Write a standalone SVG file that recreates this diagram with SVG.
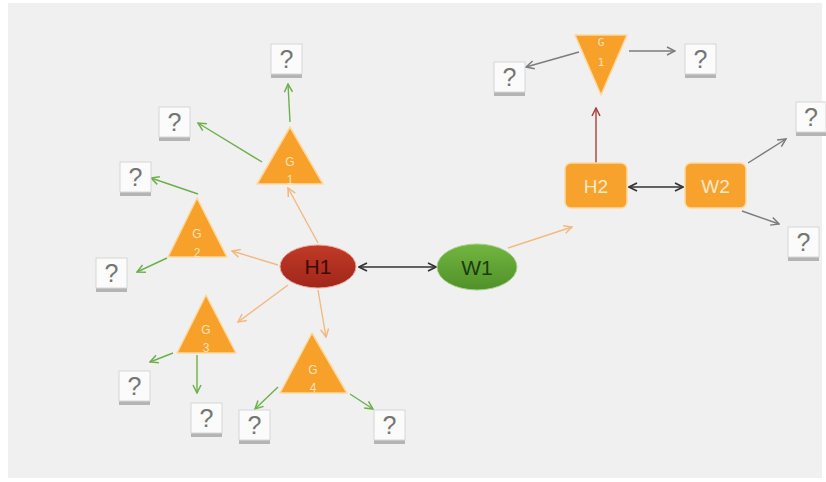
<svg xmlns="http://www.w3.org/2000/svg" width="826" height="482" viewBox="0 0 826 482">
<defs>
<style>
.tri{fill:#f7a02a;stroke:#fcd9a0;stroke-width:1.5;stroke-linejoin:round}
.tt{font-family:"Liberation Sans",Arial,sans-serif;font-size:12px;fill:#fde3b8;text-anchor:middle}
.tm{font-family:"DejaVu Sans Mono","Liberation Mono",monospace;font-size:11px;fill:#fde3b8;text-anchor:middle}
.qs{fill:#b4b4b4}
.qb{fill:#fbfbfb;stroke:#d6d6d6;stroke-width:1}
.qt{font-family:"Liberation Sans",Arial,sans-serif;font-size:25px;fill:#757575;text-anchor:middle}
.big{font-family:"Liberation Sans",Arial,sans-serif;font-size:21px;text-anchor:middle}
.big2{font-family:"Liberation Sans",Arial,sans-serif;font-size:19px;text-anchor:middle}
.rect{fill:#f7a22c;stroke:#fcd9a0;stroke-width:1.5}
.c{fill:none;stroke-width:1.4}
.g{stroke:#6cb04a;marker-end:url(#mg)}
.o{stroke:#f3b97f;marker-end:url(#mo)}
.y{stroke:#7c7c7c;marker-end:url(#my)}
.d{stroke:#333;stroke-width:1.6;marker-start:url(#md);marker-end:url(#md)}
.r{stroke:#a4403a;marker-end:url(#mr)}
</style>
<marker id="mg" viewBox="0 0 10 10" refX="9" refY="5" markerWidth="10" markerHeight="10" markerUnits="userSpaceOnUse" orient="auto-start-reverse"><path d="M1,1 L9,5 L1,9" fill="none" stroke="#6cb04a" stroke-width="1.5"/></marker>
<marker id="mo" viewBox="0 0 10 10" refX="9" refY="5" markerWidth="10" markerHeight="10" markerUnits="userSpaceOnUse" orient="auto-start-reverse"><path d="M1,1 L9,5 L1,9" fill="none" stroke="#f3b97f" stroke-width="1.5"/></marker>
<marker id="my" viewBox="0 0 10 10" refX="9" refY="5" markerWidth="10" markerHeight="10" markerUnits="userSpaceOnUse" orient="auto-start-reverse"><path d="M1,1 L9,5 L1,9" fill="none" stroke="#7c7c7c" stroke-width="1.5"/></marker>
<marker id="md" viewBox="0 0 10 10" refX="9" refY="5" markerWidth="10" markerHeight="10" markerUnits="userSpaceOnUse" orient="auto-start-reverse"><path d="M1,1 L9,5 L1,9" fill="none" stroke="#333" stroke-width="1.7"/></marker>
<marker id="mr" viewBox="0 0 10 10" refX="9" refY="5" markerWidth="10" markerHeight="10" markerUnits="userSpaceOnUse" orient="auto-start-reverse"><path d="M1,1 L9,5 L1,9" fill="none" stroke="#a4403a" stroke-width="1.5"/></marker>
<linearGradient id="gr" x1="0" y1="0" x2="0" y2="1"><stop offset="0" stop-color="#c13a26"/><stop offset="1" stop-color="#a0261a"/></linearGradient>
<linearGradient id="gg" x1="0" y1="0" x2="0" y2="1"><stop offset="0" stop-color="#72b640"/><stop offset="1" stop-color="#4f9128"/></linearGradient>
</defs>
<rect width="826" height="482" fill="#ffffff"/>
<rect x="8" y="3" width="814" height="475" fill="#f0f0f0"/>

<g id="connectors">
<path class="c g" d="M290,122 L288,84"/>
<path class="c g" d="M262,162 L198,123"/>
<path class="c g" d="M198,194 L151,178"/>
<path class="c g" d="M167,258 L137,272"/>
<path class="c g" d="M173,353 L150,362"/>
<path class="c g" d="M197,355 L197,393"/>
<path class="c g" d="M278,387 L255,409"/>
<path class="c g" d="M350,394 L373,409"/>
<path class="c o" d="M318,243 L288,188"/>
<path class="c o" d="M278,265 L232,251"/>
<path class="c o" d="M288,285 L238,322"/>
<path class="c o" d="M318,290 L326,337"/>
<path class="c o" d="M508,248 L572,227"/>
<path class="c y" d="M579,52 L526,67"/>
<path class="c y" d="M629,51 L675,51"/>
<path class="c y" d="M748,163 L786,139"/>
<path class="c y" d="M742,211 L779,224"/>
<path class="c d" d="M359,267 L436,267"/>
<path class="c d" d="M629,187 L683,187"/>
<path class="c r" d="M596,163 L596,108"/>
</g>

<g id="H1"><ellipse cx="318" cy="266.5" rx="38" ry="21.5" fill="url(#gr)" stroke="#e8a89c" stroke-width="1"/><text class="big" x="318" y="274" fill="#3c0c06">H1</text></g>
<g id="W1"><ellipse cx="477" cy="267" rx="40" ry="23" fill="url(#gg)" stroke="#a8d090" stroke-width="1"/><text class="big" x="477" y="274.5" fill="#1e3a0e">W1</text></g>
<g id="H2"><rect class="rect" x="565" y="163" width="62" height="45" rx="6"/><text class="big2" x="596" y="192.5" fill="#fde9cc">H2</text></g>
<g id="W2"><rect class="rect" x="685" y="163" width="61" height="45" rx="6"/><text class="big2" x="715.5" y="192.5" fill="#fde9cc">W2</text></g>

<g id="G1"><polygon class="tri" points="290,127 323,184 257,184"/><text class="tt" x="290" y="166">G</text><text class="tt" x="290" y="184">1</text></g>
<g id="G2"><polygon class="tri" points="197,198 227,257 168,257"/><text class="tt" x="197" y="238">G</text><text class="tt" x="197" y="257">2</text></g>
<g id="G3"><polygon class="tri" points="206,295 236,353 177,353"/><text class="tt" x="206" y="334">G</text><text class="tt" x="206" y="352">3</text></g>
<g id="G4"><polygon class="tri" points="312,333 347,393 280,393"/><text class="tt" x="313" y="374">G</text><text class="tt" x="313" y="392">4</text></g>
<g id="G1b"><polygon class="tri" points="575,35 627,35 601,95"/><text class="tm" x="601" y="46">G</text><text class="tm" x="601" y="66">1</text></g>

<g id="q1"><rect class="qs" x="271" y="47" width="31" height="31"/><rect class="qb" x="271" y="44" width="31" height="30"/><text class="qt" x="286.5" y="68">?</text></g>
<g id="q2"><rect class="qs" x="159" y="110" width="31" height="31"/><rect class="qb" x="159" y="107" width="31" height="30"/><text class="qt" x="174.5" y="131">?</text></g>
<g id="q3"><rect class="qs" x="120" y="165" width="31" height="31"/><rect class="qb" x="120" y="162" width="31" height="30"/><text class="qt" x="135.5" y="186">?</text></g>
<g id="q4"><rect class="qs" x="96" y="261" width="31" height="31"/><rect class="qb" x="96" y="258" width="31" height="30"/><text class="qt" x="111.5" y="282">?</text></g>
<g id="q5"><rect class="qs" x="119" y="374" width="31" height="31"/><rect class="qb" x="119" y="371" width="31" height="30"/><text class="qt" x="134.5" y="395">?</text></g>
<g id="q6"><rect class="qs" x="191" y="406" width="31" height="31"/><rect class="qb" x="191" y="403" width="31" height="30"/><text class="qt" x="206.5" y="427">?</text></g>
<g id="q7"><rect class="qs" x="239" y="413" width="31" height="31"/><rect class="qb" x="239" y="410" width="31" height="30"/><text class="qt" x="254.5" y="434">?</text></g>
<g id="q8"><rect class="qs" x="374" y="413" width="31" height="31"/><rect class="qb" x="374" y="410" width="31" height="30"/><text class="qt" x="389.5" y="434">?</text></g>
<g id="q9"><rect class="qs" x="494" y="65" width="31" height="31"/><rect class="qb" x="494" y="62" width="31" height="30"/><text class="qt" x="509.5" y="86">?</text></g>
<g id="q10"><rect class="qs" x="685" y="47" width="31" height="31"/><rect class="qb" x="685" y="44" width="31" height="30"/><text class="qt" x="700.5" y="68">?</text></g>
<g id="q11"><rect class="qs" x="796" y="105" width="30" height="31"/><rect class="qb" x="796" y="102" width="30" height="30"/><text class="qt" x="811" y="126">?</text></g>
<g id="q12"><rect class="qs" x="788" y="230" width="31" height="31"/><rect class="qb" x="788" y="227" width="31" height="30"/><text class="qt" x="803.5" y="251">?</text></g>
</svg>
